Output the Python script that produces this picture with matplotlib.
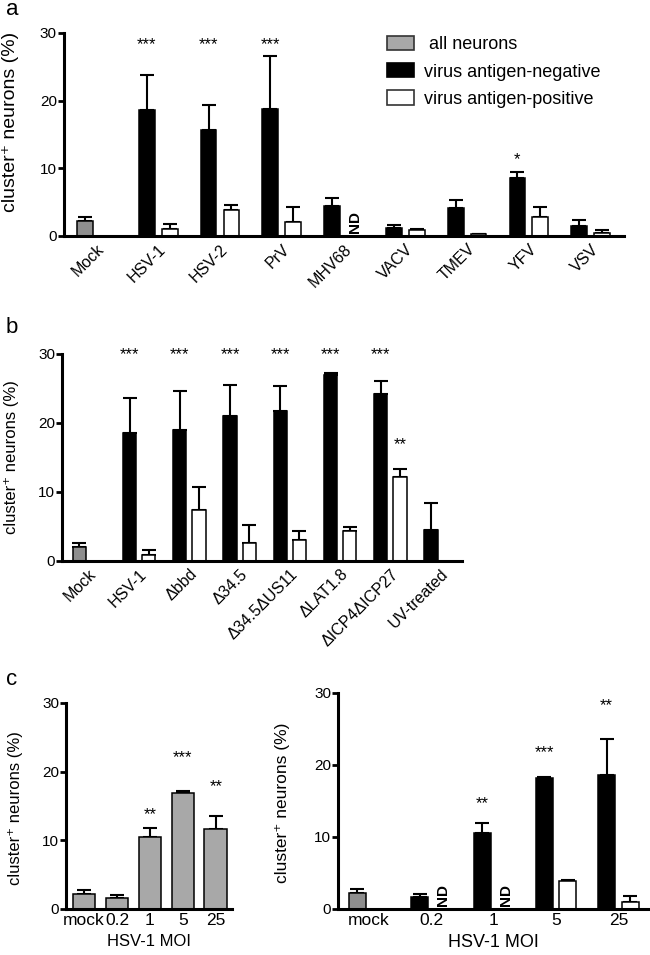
import numpy as np
import matplotlib
matplotlib.use('Agg')
import matplotlib.pyplot as plt
from matplotlib.patches import Patch

plt.rcParams['font.family'] = ['Liberation Sans', 'DejaVu Sans']
plt.rcParams['axes.spines.top'] = False
plt.rcParams['axes.spines.right'] = False

NaN = np.nan

# panel a
cats_a = ['Mock', 'HSV-1', 'HSV-2', 'PrV', 'MHV68', 'VACV', 'TMEV', 'YFV', 'VSV']
mock_a, mock_err_a = 2.2, 0.55
neg_a = [NaN, 18.65, 15.6, 18.75, 4.35, 1.15, 4.15, 8.6, 1.4]
neg_err_a = [NaN, 5.05, 3.7, 7.85, 1.25, 0.45, 1.15, 0.9, 0.9]
pos_a = [NaN, 1.0, 3.85, 2.1, NaN, 0.8, 0.3, 2.75, 0.4]
pos_err_a = [NaN, 0.8, 0.75, 2.15, NaN, 0.2, 0.0, 1.55, 0.5]
nd_a = ['MHV68']
stars_a = [('HSV-1', '***', 28.2), ('HSV-2', '***', 28.2), ('PrV', '***', 28.2), ('YFV', '*', 11.2)]

# panel b
cats_b = ['Mock', 'HSV-1', 'Δbbd', 'Δ34.5', 'Δ34.5ΔUS11', 'ΔLAT1.8', 'ΔICP4ΔICP27', 'UV-treated']
mock_b, mock_err_b = 2.0, 0.65
neg_b = [NaN, 18.5, 19.0, 21.05, 21.7, 26.9, 24.2, 4.5]
neg_err_b = [NaN, 5.15, 5.6, 4.45, 3.6, 0.4, 1.9, 3.9]
pos_b = [NaN, 0.8, 7.35, 2.55, 3.05, 4.3, 12.2, NaN]
pos_err_b = [NaN, 0.85, 3.35, 2.65, 1.25, 0.6, 1.1, NaN]
stars_b = [('HSV-1', '***', 29.9), ('Δbbd', '***', 29.9), ('Δ34.5', '***', 29.9),
           ('Δ34.5ΔUS11', '***', 29.9), ('ΔLAT1.8', '***', 29.9), ('ΔICP4ΔICP27', '***', 29.9)]
stars_b_pos = [('ΔICP4ΔICP27', '**', 16.8)]

# panel c
moi = ['mock', '0.2', '1', '5', '25']
all_c = [2.18, 1.6, 10.45, 16.9, 11.7]
all_err_c = [0.62, 0.4, 1.3, 0.3, 1.9]
stars_c_left = [('1', '**', 13.7), ('5', '***', 22.1), ('25', '**', 17.8)]

mock_c, mock_err_c = 2.2, 0.6
neg_c = [NaN, 1.6, 10.6, 18.2, 18.6]
neg_err_c = [NaN, 0.45, 1.3, 0.1, 5.0]
pos_c = [NaN, NaN, NaN, 3.85, 1.0]
pos_err_c = [NaN, NaN, NaN, 0.12, 0.75]
nd_c = ['0.2', '1']
stars_c_right = [('1', '**', 14.6), ('5', '***', 21.7), ('25', '**', 28.2)]

GRAY = '#a8a8a8'
MOCK_GRAY = '#8e8e8e'
BAR_EDGE = dict(edgecolor='black', linewidth=1.1, zorder=2)
ERR = dict(fmt='none', ecolor='black', elinewidth=1.5, capsize=5, capthick=1.5, zorder=1)


def style_axes(ax, lab_x, lab_y=0.5, lab_size=12.5):
    ax.set_ylim(0, 30)
    ax.set_yticks([0, 10, 20, 30])
    for s in ('left', 'bottom'):
        ax.spines[s].set_linewidth(2.2)
    ax.tick_params(axis='y', length=4, width=2, labelsize=11, pad=1)
    ax.tick_params(axis='x', length=0, labelsize=11.5, pad=4)
    ax.set_ylabel('cluster⁺ neurons (%)', fontsize=lab_size)
    ax.yaxis.set_label_coords(lab_x, lab_y)


def upper(err):
    err = np.asarray(err, dtype=float)
    return [np.zeros_like(err), err]


def grouped(ax, cats, mock, mock_err, neg, neg_err, pos, pos_err, width, off):
    x = np.arange(len(cats))
    ax.bar(x[0] - off, mock, width, color=MOCK_GRAY, **BAR_EDGE)
    ax.errorbar([x[0] - off], [mock], yerr=upper([mock_err]), **ERR)
    ax.bar(x - off, neg, width, color='black', **BAR_EDGE)
    ax.errorbar(x - off, neg, yerr=upper(neg_err), **ERR)
    ax.bar(x + off, pos, width, color='white', **BAR_EDGE)
    ax.errorbar(x + off, pos, yerr=upper(pos_err), **ERR)
    ax.set_xticks(x)
    return x


def put_stars(ax, cats, stars, shift):
    for name, txt, y in stars:
        ax.text(cats.index(name) + shift, y, txt, ha='center', va='center', fontsize=12)


def put_nd(ax, cats, names, shift):
    for name in names:
        ax.text(cats.index(name) + shift, 0.4, 'ND', rotation=90, ha='center', va='bottom',
                fontsize=11, fontweight='bold')


fig = plt.figure(figsize=(6.5, 9.55), dpi=100)

# ---- a
ax_a = fig.add_axes([0.098, 0.753, 0.862, 0.2126])
grouped(ax_a, cats_a, mock_a, mock_err_a, neg_a, neg_err_a, pos_a, pos_err_a, 0.256, 0.185)
ax_a.set_xlim(-0.53, 8.54)
ax_a.set_xticklabels(cats_a, rotation=45, ha='right', rotation_mode='anchor')
style_axes(ax_a, -0.08, 0.56, 14)
put_stars(ax_a, cats_a, stars_a, -0.185)
put_nd(ax_a, cats_a, nd_a, 0.185)
handles = [Patch(facecolor=GRAY, edgecolor='#333333', linewidth=1.2),
           Patch(facecolor='black', edgecolor='black', linewidth=1.2),
           Patch(facecolor='white', edgecolor='#333333', linewidth=1.2)]
fig.legend(handles, [' all neurons', 'virus antigen-negative', 'virus antigen-positive'],
           loc='upper left', bbox_to_anchor=(0.596, 0.9626), frameon=False, fontsize=13,
           handlelength=1.45, handleheight=0.85, handletextpad=0.6, labelspacing=0.55,
           borderaxespad=0, borderpad=0)

# ---- b
ax_b = fig.add_axes([0.0954, 0.4126, 0.615, 0.2168])
grouped(ax_b, cats_b, mock_b, mock_err_b, neg_b, neg_err_b, pos_b, pos_err_b, 0.264, 0.19)
ax_b.set_xlim(-0.535, 7.42)
ax_b.set_xticklabels(cats_b, rotation=45, ha='right', rotation_mode='anchor')
style_axes(ax_b, -0.107, 0.5, 12)
put_stars(ax_b, cats_b, stars_b, -0.19)
put_stars(ax_b, cats_b, stars_b_pos, 0.19)

# ---- c left
ax_c1 = fig.add_axes([0.1015, 0.0482, 0.2554, 0.2157])
xc = np.arange(len(moi))
ax_c1.bar(xc, all_c, 0.69, color=GRAY, **BAR_EDGE)
ax_c1.errorbar(xc, all_c, yerr=upper(all_err_c), **ERR)
ax_c1.set_xlim(-0.55, 4.49)
ax_c1.set_xticks(xc)
ax_c1.set_xticklabels(moi)
style_axes(ax_c1, -0.26, 0.49, 12)
ax_c1.tick_params(axis='x', labelsize=12.5, pad=3)
ax_c1.set_xlabel('HSV-1 MOI', fontsize=12, labelpad=4)
put_stars(ax_c1, moi, stars_c_left, 0)

# ---- c right
ax_c2 = fig.add_axes([0.52, 0.0482, 0.477, 0.2262])
grouped(ax_c2, moi, mock_c, mock_err_c, neg_c, neg_err_c, pos_c, pos_err_c, 0.27, 0.188)
ax_c2.set_xlim(-0.5, 4.475)
ax_c2.set_xticklabels(moi)
style_axes(ax_c2, -0.155, 0.49, 12.5)
ax_c2.tick_params(axis='x', labelsize=12.5, pad=3)
ax_c2.set_xlabel('HSV-1 MOI', fontsize=13, labelpad=4)
put_stars(ax_c2, moi, stars_c_right, -0.188)
put_nd(ax_c2, moi, nd_c, 0.188)

for lab, y in (('a', 0.9843), ('b', 0.6513), ('c', 0.2827)):
    fig.text(0.009, y, lab, fontsize=16, va='baseline')

fig.savefig('out.png', dpi=100)
